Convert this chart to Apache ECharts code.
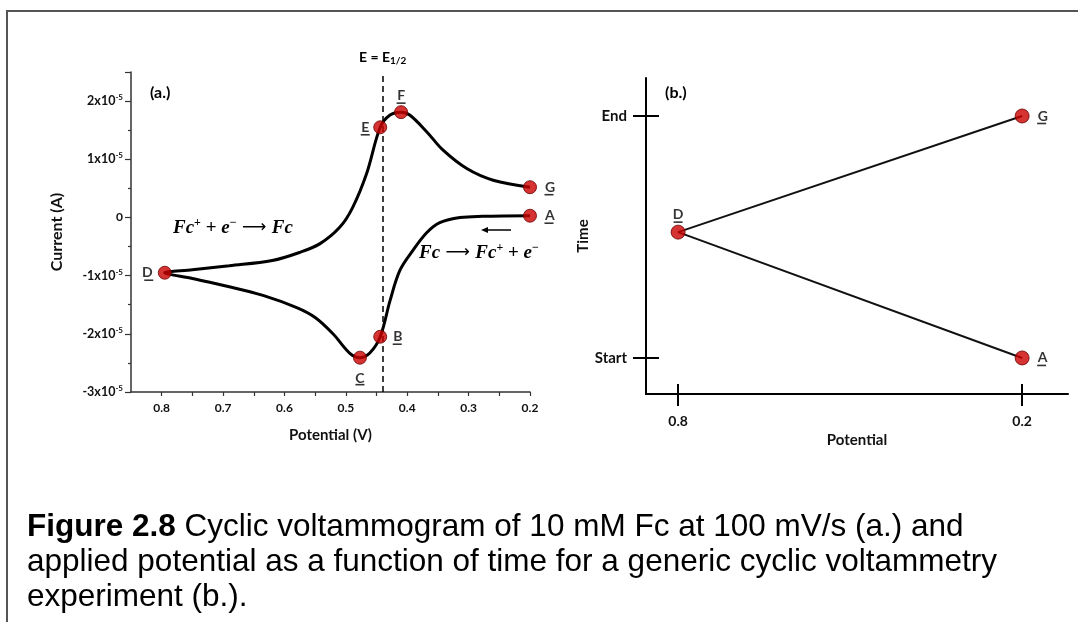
<!DOCTYPE html>
<html><head><meta charset="utf-8">
<script src="https://cdn.jsdelivr.net/npm/echarts@6/dist/echarts.min.js"></script>
<style>html,body{margin:0;padding:0;background:#fff}#c{width:1078px;height:622px}</style>
</head><body><div id="c"></div>
<script>
// ---- data: (a.) cyclic voltammogram, path A -> B -> C -> D -> E -> F -> G ----
const cvPotential = [0.2, 0.277, 0.314, 0.347, 0.368, 0.391, 0.412, 0.428, 0.444, 0.461, 0.477, 0.493, 0.521, 0.55, 0.58, 0.635, 0.69, 0.75, 0.795,
                     0.75, 0.69, 0.62, 0.575, 0.542, 0.51, 0.489, 0.466, 0.444, 0.428, 0.41, 0.396, 0.368, 0.342, 0.303, 0.26, 0.2];
const cvCurrent = [0.03e-5, 0.02e-5, 0.0, -0.09e-5, -0.26e-5, -0.57e-5, -0.91e-5, -1.43e-5, -2.05e-5, -2.33e-5, -2.41e-5, -2.34e-5, -2.0e-5, -1.72e-5, -1.55e-5, -1.34e-5, -1.19e-5, -1.05e-5, -0.95e-5,
                   -0.9e-5, -0.83e-5, -0.74e-5, -0.6e-5, -0.45e-5, -0.17e-5, 0.17e-5, 0.76e-5, 1.55e-5, 1.76e-5, 1.81e-5, 1.76e-5, 1.47e-5, 1.16e-5, 0.84e-5, 0.64e-5, 0.52e-5];
const cvPointNames = ['A', 'B', 'C', 'D', 'E', 'F', 'G'];
const cvPointPotential = [0.2, 0.444, 0.477, 0.795, 0.444, 0.41, 0.2];
const cvPointCurrent = [0.03e-5, -2.05e-5, -2.41e-5, -0.95e-5, 1.55e-5, 1.81e-5, 0.52e-5];
const halfWavePotential = 0.444;

// ---- data: (b.) applied potential vs time ----
const wavePointNames = ['A', 'D', 'G'];
const wavePotential = [0.2, 0.8, 0.2];
const waveTime = [0, 0.52, 1];
const timeTickValues = [0, 1];
const timeTickLabels = ['Start', 'End'];
const potentialTickValues = [0.8, 0.2];
const potentialTickLabels = ['0.8', '0.2'];

// ---- styles ----
const FONT = 'Lato, "Open Sans", sans-serif';
const cvLabelPos = {A: 'right', B: 'right', C: 'bottom', D: 'left', E: 'left', F: 'top', G: 'right'};
const cvLabelDist = {A: 8, B: 6, C: 6, D: 5, E: 4, F: 2, G: 8};
const waveLabelPos = {A: 'right', D: 'top', G: 'right'};
const waveLabelDist = {A: 8, D: 2.5, G: 8};
const CV_DOT = 13, WAVE_DOT = 14;

function underlineOffset(pos, r, dist) {
  if (pos === 'right') return [r + dist + 4.5, 7.5];
  if (pos === 'left') return [-(r + dist + 4.5), 7.5];
  if (pos === 'top') return [0, -(r + dist) - 0.5];
  return [0, r + dist + 14.5];
}
function letterLabel(pos, dist) {
  return {show: true, position: pos, distance: dist, formatter: '{b}',
    fontFamily: FONT, fontWeight: 'bold', fontSize: 14, lineHeight: 15, color: '#000'};
}
const dotStyle = {color: '#cc0000', borderColor: '#6a0000', borderWidth: 1};

function expLabel(v) {
  const k = Math.round(v / 1e-5 * 2) / 2;
  if (Math.abs(k) < 1e-9) return '0';
  if (k !== Math.round(k)) return '';
  return '{n|' + k + 'x10}{s|-5}';
}

const SERIF = '"Liberation Serif", serif';
const reactionRich = {
  i: {fontFamily: SERIF, fontStyle: 'italic', fontWeight: 'bold', fontSize: 19, color: '#000', lineHeight: 22},
  p: {fontFamily: SERIF, fontWeight: 'bold', fontSize: 12, color: '#000', verticalAlign: 'top', lineHeight: 22},
  n: {fontFamily: SERIF, fontWeight: 'bold', fontSize: 19, color: '#000', lineHeight: 22},
  a: {fontFamily: '"DejaVu Sans", sans-serif', fontSize: 17, color: '#000', lineHeight: 22}
};

const chart = echarts.init(document.getElementById('c'), null, {renderer: 'canvas'});

const option = {
  backgroundColor: '#fff',
  animation: false,
  grid: [
    {left: 131, top: 72, width: 399, height: 320},
    {left: 646, top: 78, width: 422, height: 316}
  ],
  xAxis: [
    {
      gridIndex: 0, type: 'value', position: 'bottom', inverse: true, min: 0.2, max: 0.85, interval: 0.05,
      name: 'Potential (V)', nameLocation: 'middle', nameGap: 36,
      nameTextStyle: {fontFamily: FONT, fontWeight: 'bold', fontSize: 15, color: '#111'},
      axisLine: {show: true, onZero: false, lineStyle: {color: '#333', width: 1.5}},
      axisTick: {show: true, length: 4, lineStyle: {color: '#333', width: 1.2}},
      axisLabel: {margin: 10, fontFamily: FONT, fontWeight: 'bold', fontSize: 12, color: '#111',
        formatter: v => (Math.round(v * 100) % 10 === 0 ? v.toFixed(1) : ''), showMaxLabel: false},
      splitLine: {show: false}
    },
    {
      gridIndex: 1, type: 'value', position: 'bottom', inverse: true, min: 0.12, max: 0.856,
      name: 'Potential', nameLocation: 'middle', nameGap: 31,
      nameTextStyle: {fontFamily: FONT, fontWeight: 'bold', fontSize: 15, color: '#111'},
      axisLine: {show: true, onZero: false, lineStyle: {color: '#000', width: 2}},
      axisTick: {show: true, length: 12, customValues: potentialTickValues, lineStyle: {color: '#000', width: 2}},
      axisLabel: {margin: 20, fontFamily: FONT, fontWeight: 'bold', fontSize: 14, color: '#111',
        customValues: potentialTickValues, formatter: v => potentialTickLabels[potentialTickValues.indexOf(v)] || ''},
      splitLine: {show: false}
    },
    {
      gridIndex: 1, type: 'value', position: 'bottom', inverse: true, min: 0.12, max: 0.856,
      axisLine: {show: false, onZero: false},
      axisTick: {show: true, inside: true, length: 10, customValues: potentialTickValues, lineStyle: {color: '#000', width: 2}},
      axisLabel: {show: false}, splitLine: {show: false}
    }
  ],
  yAxis: [
    {
      gridIndex: 0, type: 'value', position: 'left', min: -3e-5, max: 2.5e-5, interval: 1e-5,
      name: 'Current (A)', nameLocation: 'middle', nameGap: 66, nameRotate: 90,
      nameTextStyle: {fontFamily: FONT, fontWeight: 'bold', fontSize: 16, color: '#111'},
      axisLine: {show: true, onZero: false, lineStyle: {color: '#333', width: 1.5}},
      axisTick: {show: true, length: 6, lineStyle: {color: '#333', width: 1.2}},
      minorTick: {show: true, splitNumber: 2, length: 3, lineStyle: {color: '#333', width: 1.2}},
      axisLabel: {margin: 8, showMaxLabel: false, formatter: expLabel,
        fontFamily: FONT, fontWeight: 'bold', fontSize: 12, color: '#111',
        rich: {
          n: {fontFamily: FONT, fontWeight: 'bold', fontSize: 12.5, color: '#111', lineHeight: 15},
          s: {fontFamily: FONT, fontWeight: 'bold', fontSize: 8, color: '#111', verticalAlign: 'top', lineHeight: 15}
        }},
      splitLine: {show: false}, minorSplitLine: {show: false}
    },
    {
      gridIndex: 1, type: 'value', position: 'left', min: -0.149, max: 1.157,
      name: 'Time', nameLocation: 'middle', nameGap: 44, nameRotate: 90,
      nameTextStyle: {fontFamily: FONT, fontWeight: 'bold', fontSize: 15, color: '#111'},
      axisLine: {show: true, onZero: false, lineStyle: {color: '#000', width: 2}},
      axisTick: {show: true, length: 13, customValues: timeTickValues, lineStyle: {color: '#000', width: 2}},
      axisLabel: {margin: 19, fontFamily: FONT, fontWeight: 'bold', fontSize: 15, color: '#111',
        customValues: timeTickValues, formatter: v => timeTickLabels[timeTickValues.indexOf(v)] || ''},
      splitLine: {show: false}
    },
    {
      gridIndex: 1, type: 'value', position: 'left', min: -0.149, max: 1.157,
      axisLine: {show: false, onZero: false},
      axisTick: {show: true, inside: true, length: 13, customValues: timeTickValues, lineStyle: {color: '#000', width: 2}},
      axisLabel: {show: false}, splitLine: {show: false}
    }
  ],
  series: [
    {
      type: 'line', xAxisIndex: 0, yAxisIndex: 0, smooth: 0.35, symbol: 'none',
      data: cvPotential.map((e, i) => [e, cvCurrent[i]]),
      lineStyle: {color: '#000', width: 3}, z: 3,
      markLine: {
        silent: true, symbol: 'none',
        lineStyle: {type: [6, 4], color: '#000', width: 1.5},
        label: {show: true, position: 'end', distance: 6, formatter: '{t|E = E}{s|1/2}',
          rich: {
            t: {fontFamily: FONT, fontWeight: 'bold', fontSize: 14, color: '#000', lineHeight: 17},
            s: {fontFamily: FONT, fontWeight: 'bold', fontSize: 10, color: '#000', verticalAlign: 'bottom', lineHeight: 17}
          }},
        data: [{xAxis: halfWavePotential}]
      }
    },
    {
      type: 'scatter', xAxisIndex: 0, yAxisIndex: 0, symbolSize: CV_DOT, z: 5,
      itemStyle: dotStyle,
      data: cvPointNames.map((n, i) => ({name: n, value: [cvPointPotential[i], cvPointCurrent[i]],
        label: letterLabel(cvLabelPos[n], cvLabelDist[n])}))
    },
    {
      // underlines of the point letters
      type: 'scatter', xAxisIndex: 0, yAxisIndex: 0, symbol: 'rect', symbolSize: [9, 1.6], z: 6, silent: true,
      itemStyle: {color: '#000'},
      data: cvPointNames.map((n, i) => ({value: [cvPointPotential[i], cvPointCurrent[i]],
        symbolOffset: underlineOffset(cvLabelPos[n], CV_DOT / 2, cvLabelDist[n])}))
    },
    {
      type: 'line', xAxisIndex: 1, yAxisIndex: 1, symbol: 'none',
      data: wavePotential.map((e, i) => [e, waveTime[i]]),
      lineStyle: {color: '#111', width: 2}, z: 3
    },
    {
      type: 'scatter', xAxisIndex: 1, yAxisIndex: 1, symbolSize: WAVE_DOT, z: 5,
      itemStyle: dotStyle,
      data: wavePointNames.map((n, i) => ({name: n, value: [wavePotential[i], waveTime[i]],
        label: letterLabel(waveLabelPos[n], waveLabelDist[n])}))
    },
    {
      type: 'scatter', xAxisIndex: 1, yAxisIndex: 1, symbol: 'rect', symbolSize: [9, 1.6], z: 6, silent: true,
      itemStyle: {color: '#000'},
      data: wavePointNames.map((n, i) => ({value: [wavePotential[i], waveTime[i]],
        symbolOffset: underlineOffset(waveLabelPos[n], WAVE_DOT / 2, waveLabelDist[n])}))
    }
  ],
  graphic: [
    {type: 'polyline', shape: {points: [[7, 622], [7, 11], [1078, 11]]}, style: {stroke: '#555', lineWidth: 2, fill: null}},
    {type: 'text', x: 150, y: 93, style: {text: '(a.)', font: 'bold 16px ' + FONT, fill: '#000', verticalAlign: 'middle'}},
    {type: 'text', x: 665, y: 93, style: {text: '(b.)', font: 'bold 16px ' + FONT, fill: '#000', verticalAlign: 'middle'}},
    {type: 'text', x: 173, y: 228, style: {text: '{i|Fc}{p|+}{n| + }{i|e}{p|\u2212}{a| \u27f6 }{i|Fc}', rich: reactionRich, verticalAlign: 'middle'}},
    {type: 'text', x: 419, y: 253, style: {text: '{i|Fc}{a| \u27f6 }{i|Fc}{p|+}{n| + }{i|e}{p|\u2212}', rich: reactionRich, verticalAlign: 'middle'}},
    {type: 'line', shape: {x1: 511, y1: 230, x2: 486, y2: 230}, style: {stroke: '#000', lineWidth: 1.5}},
    {type: 'polygon', shape: {points: [[481, 230], [488, 227], [488, 233]]}, style: {fill: '#000'}},
    {type: 'text', x: 27, y: 510, style: {
      text: '{b|Figure 2.8} Cyclic voltammogram of 10 mM Fc at 100 mV/s (a.) and\napplied potential as a function of time for a generic cyclic voltammetry\nexperiment (b.).',
      fontFamily: '"Liberation Sans", Arial, sans-serif', fontSize: 31.5, lineHeight: 35, fill: '#000',
      rich: {b: {fontFamily: '"Liberation Sans", Arial, sans-serif', fontWeight: 'bold', fontSize: 31.5, lineHeight: 35}}
    }}
  ]
};
chart.setOption(option);
</script>
</body></html>
